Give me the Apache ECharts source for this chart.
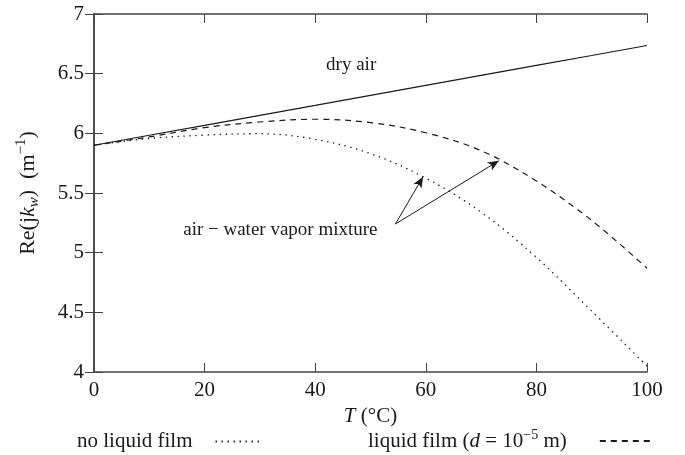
<!DOCTYPE html>
<html>
<head>
<meta charset="utf-8">
<script src="https://cdn.jsdelivr.net/npm/echarts@6/dist/echarts.min.js"></script>
<style>
html,body{margin:0;padding:0;background:#fff;}
#chart{width:685px;height:455px;}
</style>
</head>
<body>
<div id="chart"></div>
<script>
// temperature axis (°C)
const temps = [0, 10, 20, 30, 40, 50, 60, 70, 80, 90, 100];
// Re(jk_w) values
const dryAir = [5.90, 5.984, 6.067, 6.151, 6.234, 6.318, 6.402, 6.485, 6.569, 6.652, 6.736];
const noFilm = [5.90, 5.957, 5.985, 5.997, 5.95, 5.83, 5.625, 5.34, 4.96, 4.51, 4.05];
const withFilm = [5.90, 5.97, 6.048, 6.095, 6.118, 6.09, 6.005, 5.855, 5.60, 5.27, 4.87];
const yTicks = [4, 4.5, 5, 5.5, 6, 6.5, 7];
// annotation anchors in data coords
const arrowTail = [54.5, 5.24];
const arrowHeads = [[59.5, 5.636], [73.2, 5.77]];
const dryAirLabel = [46.5, 6.57];
const mixLabel = [33.7, 5.19];

const serif = "'Liberation Serif', 'DejaVu Serif', serif";
const ink = '#1a1a1a';
const frame = '#444';

function pairs(xs, ys) {
	return xs.map((x, i) => [x, ys[i]]);
}

// ticks point into the plot on all four sides (negative length flips them inward)
const tick = {show: true, inside: false, length: -9, lineStyle: {color: frame}};
const edge = {show: true, lineStyle: {color: frame, width: 1.5}};

let chart = echarts.init(document.getElementById('chart'));
let option = {
	animation: false,
	grid: {left: 94, right: 38, top: 14, bottom: 83},
	legend: [
		{
			data: ['no liquid film'],
			left: 77, top: 431, padding: 0,
			align: 'right',
			itemWidth: 48, itemHeight: 10,
			itemStyle: {opacity: 0},
			textStyle: {fontFamily: serif, fontSize: 21, color: ink, padding: [0, 18, 0, 0]}
		},
		{
			data: ['liquid film'],
			left: 368, top: 428, padding: 0,
			align: 'right',
			itemWidth: 54, itemHeight: 10,
			itemStyle: {opacity: 0},
			formatter: function () {
				return 'liquid film ({it|d} = 10{sup|−5} m)';
			},
			textStyle: {
				fontFamily: serif, fontSize: 21, color: ink, padding: [0, 28, 0, 0],
				rich: {
					it: {fontFamily: serif, fontSize: 21, fontStyle: 'italic', color: ink},
					sup: {fontFamily: serif, fontSize: 14, color: ink, verticalAlign: 'top', lineHeight: 26}
				}
			}
		}
	],
	xAxis: [
		{
			type: 'value', min: 0, max: 100, interval: 20,
			position: 'bottom',
			name: '{it|T} (°C)',
			nameLocation: 'middle', nameGap: 32,
			nameTextStyle: {
				fontFamily: serif, fontSize: 21, color: ink,
				rich: {it: {fontFamily: serif, fontSize: 21, fontStyle: 'italic', color: ink}}
			},
			axisLine: edge,
			axisTick: tick,
			axisLabel: {fontFamily: serif, fontSize: 21, color: ink, margin: 8},
			splitLine: {show: false}
		},
		{
			type: 'value', min: 0, max: 100, interval: 20,
			position: 'top',
			axisLine: edge,
			axisTick: tick,
			axisLabel: {show: false},
			splitLine: {show: false}
		}
	],
	yAxis: [
		{
			type: 'value', min: yTicks[0], max: yTicks[yTicks.length - 1], interval: 0.5,
			position: 'left',
			name: 'Re(j{it|k}{sub|w})  (m{sup|−1})',
			nameLocation: 'middle', nameGap: 52, nameRotate: 90,
			nameTextStyle: {
				fontFamily: serif, fontSize: 22, color: ink,
				rich: {
					it: {fontFamily: serif, fontSize: 22, fontStyle: 'italic', color: ink},
					sub: {fontFamily: serif, fontSize: 15, fontStyle: 'italic', color: ink, verticalAlign: 'bottom', lineHeight: 24},
					sup: {fontFamily: serif, fontSize: 15, color: ink, verticalAlign: 'top', lineHeight: 28}
				}
			},
			axisLine: edge,
			axisTick: tick,
			axisLabel: {fontFamily: serif, fontSize: 21, color: ink, margin: 10},
			splitLine: {show: false}
		},
		{
			type: 'value', min: yTicks[0], max: yTicks[yTicks.length - 1], interval: 0.5,
			position: 'right',
			axisLine: edge,
			axisTick: tick,
			axisLabel: {show: false},
			splitLine: {show: false}
		}
	],
	series: [
		{
			name: 'dry air',
			type: 'line',
			data: pairs(temps, dryAir),
			symbol: 'none',
			lineStyle: {color: ink, width: 1.2},
			itemStyle: {color: ink},
			markPoint: {
				symbol: 'circle', symbolSize: 0,
				silent: true,
				label: {show: true, position: 'inside', fontFamily: serif, fontSize: 19, color: ink},
				data: [
					{coord: dryAirLabel, value: 'dry air', label: {formatter: 'dry air'}},
					{coord: mixLabel, value: 'mix', label: {formatter: 'air − water vapor mixture'}}
				]
			}
		},
		{
			name: 'no liquid film',
			type: 'line',
			data: pairs(temps, noFilm),
			smooth: 0.35,
			symbol: 'none',
			lineStyle: {color: ink, width: 1.3, type: [1.4, 4.6]},
			itemStyle: {color: ink},
			markLine: {
				silent: true,
				symbol: ['none', 'arrow'],
				symbolSize: [7, 11],
				label: {show: false},
				lineStyle: {color: ink, width: 1, type: 'solid'},
				data: arrowHeads.map(h => [{coord: arrowTail}, {coord: h}])
			}
		},
		{
			name: 'liquid film',
			type: 'line',
			data: pairs(temps, withFilm),
			smooth: 0.35,
			symbol: 'none',
			lineStyle: {color: ink, width: 1.2, type: [6, 5]},
			itemStyle: {color: ink}
		}
	]
};
chart.setOption(option);
</script>
</body>
</html>
